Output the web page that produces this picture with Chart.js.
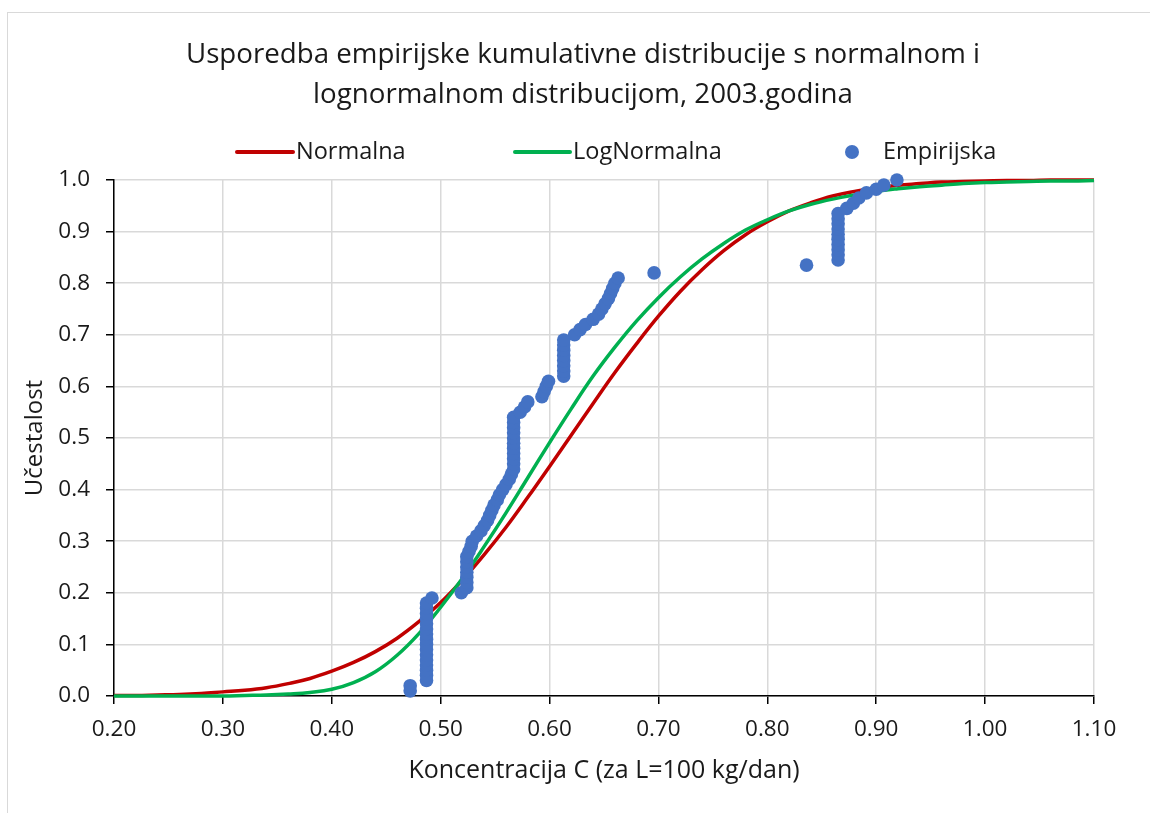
<!DOCTYPE html>
<html>
<head>
<meta charset="utf-8">
<script src="https://cdn.jsdelivr.net/npm/chart.js@4/dist/chart.umd.min.js"></script>
<style>
  html, body { margin: 0; padding: 0; background: #ffffff; }
  #wrap { position: relative; width: 1150px; height: 813px; overflow: hidden; }
  #frame { position: absolute; left: 7px; top: 12px; width: 1200px; height: 900px; border: 1.5px solid #d9d9d9; }
  canvas { position: absolute; left: 0; top: 0; }
</style>
</head>
<body>
<div id="wrap">
  <div id="frame"></div>
  <canvas id="c" width="1150" height="813"></canvas>
</div>
<script>
// ---- data ----
const titleLines = ["Usporedba empirijske kumulativne distribucije s normalnom i", "lognormalnom distribucijom, 2003.godina"];
const xAxisTitle = "Koncentracija C (za L=100 kg/dan)";
const yAxisTitle = "Učestalost";
const seriesNames = ["Normalna", "LogNormalna", "Empirijska"];

const xTickValues = [0.20, 0.30, 0.40, 0.50, 0.60, 0.70, 0.80, 0.90, 1.00, 1.10];
const yTickValues = [0.0, 0.1, 0.2, 0.3, 0.4, 0.5, 0.6, 0.7, 0.8, 0.9, 1.0];

const curveX = [0.20,0.22,0.24,0.26,0.28,0.30,0.32,0.34,0.36,0.38,0.40,0.42,0.44,0.46,0.48,0.50,0.52,0.54,0.56,0.58,0.60,0.62,0.64,0.66,0.68,0.70,0.72,0.74,0.76,0.78,0.80,0.82,0.84,0.86,0.88,0.90,0.92,0.94,0.96,0.98,1.00,1.02,1.04,1.06,1.08,1.10];
const normalCdf = [0.001,0.001,0.002,0.003,0.005,0.008,0.011,0.016,0.024,0.034,0.048,0.065,0.086,0.112,0.144,0.181,0.225,0.274,0.327,0.385,0.445,0.506,0.567,0.627,0.683,0.736,0.784,0.826,0.863,0.894,0.919,0.940,0.956,0.969,0.978,0.985,0.990,0.993,0.996,0.997,0.998,0.999,0.999,1.000,1.000,1.000];
const lognormalCdf = [0.000,0.000,0.000,0.000,0.000,0.000,0.001,0.002,0.004,0.007,0.013,0.026,0.047,0.079,0.121,0.172,0.228,0.290,0.355,0.423,0.491,0.557,0.620,0.676,0.727,0.772,0.812,0.847,0.877,0.903,0.923,0.940,0.953,0.963,0.971,0.978,0.983,0.987,0.990,0.993,0.995,0.996,0.997,0.998,0.998,0.999];

const empX = [0.472,0.472,
  0.487,0.487,0.487,0.487,0.487,0.487,0.487,0.487,0.487,0.487,0.487,0.487,0.487,0.487,0.487,0.487,
  0.492,0.519,
  0.524,0.524,0.524,0.524,0.524,0.524,0.524,
  0.526,0.528,0.529,
  0.533,0.537,0.540,0.543,0.545,0.547,0.549,0.552,0.554,0.557,0.560,0.563,0.565,
  0.567,0.567,0.567,0.567,0.567,0.567,0.567,0.567,0.567,0.567,0.567,
  0.573,0.577,0.580,0.593,0.595,0.597,0.599,
  0.613,0.613,0.613,0.613,0.613,0.613,0.613,0.613,
  0.623,0.628,0.633,0.640,0.645,0.648,0.651,0.654,0.656,0.658,0.660,0.663,
  0.696,0.836,
  0.865,0.865,0.865,0.865,0.865,0.865,0.865,0.865,0.865,0.865,
  0.873,0.879,0.884,0.891,0.900,0.907,0.919];
const empY = [0.01,0.02,0.03,0.04,0.05,0.06,0.07,0.08,0.09,0.10,
  0.11,0.12,0.13,0.14,0.15,0.16,0.17,0.18,0.19,0.20,
  0.21,0.22,0.23,0.24,0.25,0.26,0.27,0.28,0.29,0.30,
  0.31,0.32,0.33,0.34,0.35,0.36,0.37,0.38,0.39,0.40,
  0.41,0.42,0.43,0.44,0.45,0.46,0.47,0.48,0.49,0.50,
  0.51,0.52,0.53,0.54,0.55,0.56,0.57,0.58,0.59,0.60,
  0.61,0.62,0.63,0.64,0.65,0.66,0.67,0.68,0.69,0.70,
  0.71,0.72,0.73,0.74,0.75,0.76,0.77,0.78,0.79,0.80,
  0.81,0.82,0.835,0.845,0.855,0.865,0.875,0.885,0.895,0.905,
  0.915,0.925,0.935,0.945,0.955,0.965,0.975,0.982,0.99,1.00];

// ---- styles ----
const RED = '#C00000', GREEN = '#00B050', BLUE = '#4472C4';
const FONT = '"Open Sans", "DejaVu Sans", sans-serif';
const TEXT = '#1a1a1a';

const toXY = (xs, ys) => xs.map((x, i) => ({ x: x, y: ys[i] }));

const textPlugin = {
  id: 'textPlugin',
  afterDraw(chart) {
    const ctx = chart.ctx;
    const ca = chart.chartArea;
    ctx.save();
    ctx.fillStyle = TEXT;
    ctx.textBaseline = 'middle';
    ctx.textAlign = 'center';
    // title
    ctx.font = '27.7px ' + FONT;
    ctx.fillText(titleLines[0], 583, 55);
    ctx.fillText(titleLines[1], 583, 95);
    // axis titles
    ctx.font = '25px ' + FONT;
    ctx.fillText(xAxisTitle, (ca.left + ca.right) / 2, 771);
    ctx.save();
    ctx.font = '24px ' + FONT;
    ctx.translate(35, (ca.top + ca.bottom) / 2);
    ctx.rotate(-Math.PI / 2);
    ctx.fillText(yAxisTitle, 0, 0);
    ctx.restore();
    // legend
    const ly = 152;
    ctx.textAlign = 'left';
    ctx.font = '23.5px ' + FONT;
    const items = [
      { type: 'line', color: RED, x0: 237, x1: 293, tx: 296, label: chart.data.datasets[2].label },
      { type: 'line', color: GREEN, x0: 515, x1: 570, tx: 573, label: chart.data.datasets[1].label },
      { type: 'dot', color: BLUE, cx: 852, tx: 883, label: chart.data.datasets[0].label }
    ];
    items.forEach(it => {
      if (it.type === 'line') {
        ctx.strokeStyle = it.color;
        ctx.lineWidth = 4;
        ctx.lineCap = 'round';
        ctx.beginPath();
        ctx.moveTo(it.x0, ly);
        ctx.lineTo(it.x1, ly);
        ctx.stroke();
      } else {
        ctx.fillStyle = it.color;
        ctx.beginPath();
        ctx.arc(it.cx, ly, 7, 0, Math.PI * 2);
        ctx.fill();
      }
      ctx.fillStyle = TEXT;
      ctx.fillText(it.label, it.tx, ly);
    });
    ctx.restore();
  }
};

new Chart(document.getElementById('c'), {
  type: 'scatter',
  data: {
    datasets: [
      {
        label: seriesNames[2],
        data: toXY(empX, empY),
        showLine: false,
        pointRadius: 6.8,
        pointHoverRadius: 6.8,
        backgroundColor: BLUE,
        borderColor: BLUE,
        borderWidth: 0,
        order: 0,
        clip: false
      },
      {
        label: seriesNames[1],
        data: toXY(curveX, lognormalCdf),
        showLine: true,
        borderColor: GREEN,
        backgroundColor: GREEN,
        borderWidth: 3.5,
        pointRadius: 0,
        tension: 0.4,
        order: 1,
        clip: false
      },
      {
        label: seriesNames[0],
        data: toXY(curveX, normalCdf),
        showLine: true,
        borderColor: RED,
        backgroundColor: RED,
        borderWidth: 3.5,
        pointRadius: 0,
        tension: 0.4,
        order: 2,
        clip: false
      }
    ]
  },
  options: {
    responsive: false,
    animation: false,
    events: [],
    layout: { padding: { top: 180, right: 56, left: 0, bottom: 0 } },
    plugins: {
      legend: { display: false },
      title: { display: false },
      tooltip: { enabled: false }
    },
    scales: {
      x: {
        type: 'linear',
        min: xTickValues[0],
        max: xTickValues[xTickValues.length - 1],
        afterBuildTicks: s => { s.ticks = xTickValues.map(v => ({ value: v })); },
        afterFit: s => { s.height = 813 - 696; },
        grid: { color: '#d9d9d9', lineWidth: 1.5, tickColor: '#000', tickLength: 8, drawTicks: true },
        border: { color: '#000', width: 1.5 },
        ticks: {
          font: { family: FONT, size: 22.5 },
          color: TEXT,
          padding: 12,
          maxRotation: 0,
          autoSkip: false,
          callback: v => Number(v).toFixed(2)
        }
      },
      y: {
        type: 'linear',
        min: yTickValues[0],
        max: yTickValues[yTickValues.length - 1],
        afterBuildTicks: s => { s.ticks = yTickValues.map(v => ({ value: v })); },
        afterFit: s => { s.width = 114; },
        grid: { color: '#d9d9d9', lineWidth: 1.5, tickColor: '#000', tickLength: 8, drawTicks: true },
        border: { color: '#000', width: 1.5 },
        ticks: {
          font: { family: FONT, size: 22.5 },
          color: TEXT,
          padding: 16,
          autoSkip: false,
          callback: v => Number(v).toFixed(1)
        }
      }
    }
  },
  plugins: [textPlugin]
});
</script>
</body>
</html>
